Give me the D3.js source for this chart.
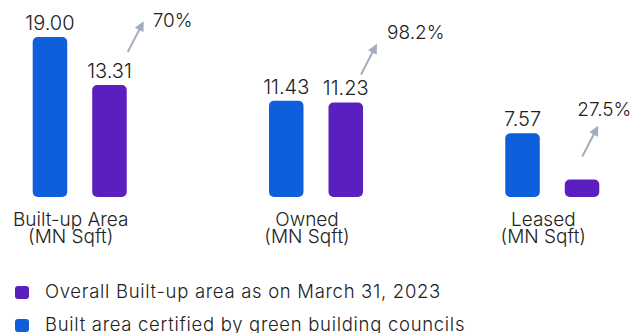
<!DOCTYPE html>
<html>
<head>
<meta charset="utf-8">
<script src="https://cdn.jsdelivr.net/npm/d3@7"></script>
<style>
  html, body { margin: 0; padding: 0; background: #ffffff; }
  svg { display: block; font-family: Inter, "Noto Sans", sans-serif; font-weight: 300; }
</style>
</head>
<body>
<svg id="chart" width="633" height="333"></svg>
<script>
// Built-up area by ownership type (MN Sqft)
const categories = ["Built-up Area", "Owned", "Leased"];
const categoryUnit = "(MN Sqft)";
const series = ["certified", "overall"];
const certifiedValues = [19.00, 11.43, 7.57];
const overallValues = [13.31, 11.23, 2.08];
const overallLabels = ["13.31", "11.23", null];
const certifiedLabels = ["19.00", "11.43", "7.57"];
const shareLabels = ["70%", "98.2%", "27.5%"];
const legendLabels = [
  "Overall Built-up area as on March 31, 2023",
  "Built area certified by green building councils"
];

const colors = { certified: "#0f5fdc", overall: "#5b1fbf" };
const textColor = "#222222";
const arrowColor = "#a4adbb";

// Arrow placement relative to the top-right corner of the overall bar,
// and share-label placement relative to the arrow tip.
const arrowShift = [[1, -33], [-2, -28], [-17, -23]];
const shareShift = [[10, 4], [11, -6], [-20, -11]];

const svg = d3.select("#chart");

const x0 = d3.scaleBand().domain(categories).range([32.7, 599.3]).paddingInner(0.602).paddingOuter(0);
const x1 = d3.scaleBand().domain(series).range([0, x0.bandwidth()]).paddingInner(0.42).paddingOuter(0);
const y = d3.scaleLinear().domain([0, 19]).range([197, 37]);

const rows = categories.map((c, i) => ({
  category: c,
  i,
  bars: [
    { key: "certified", value: certifiedValues[i], label: certifiedLabels[i] },
    { key: "overall", value: overallValues[i], label: overallLabels[i] }
  ]
}));

const groups = svg.selectAll("g.group")
  .data(rows)
  .join("g")
  .attr("class", "group")
  .attr("transform", d => `translate(${x0(d.category)},0)`);

groups.selectAll("rect")
  .data(d => d.bars)
  .join("rect")
  .attr("x", b => x1(b.key))
  .attr("y", b => y(b.value))
  .attr("width", x1.bandwidth())
  .attr("height", b => y(0) - y(b.value))
  .attr("rx", 5)
  .attr("fill", b => colors[b.key]);

groups.selectAll("text.value")
  .data(d => d.bars.filter(b => b.label))
  .join("text")
  .attr("class", "value")
  .attr("x", b => x1(b.key) + x1.bandwidth() / 2)
  .attr("y", b => y(b.value) - 7)
  .attr("text-anchor", "middle")
  .attr("font-size", 20)
  .attr("fill", textColor)
  .text(b => b.label);

// Category labels under each pair
const catText = groups.append("text")
  .attr("text-anchor", "middle")
  .attr("font-size", 19)
  .attr("fill", textColor);
catText.append("tspan")
  .attr("x", x0.bandwidth() / 2 - 9)
  .attr("y", 226)
  .text(d => d.category);
catText.append("tspan")
  .attr("x", x0.bandwidth() / 2 - 9)
  .attr("y", 243)
  .text(categoryUnit);

// Arrowhead marker
svg.append("defs").append("marker")
  .attr("id", "arrowhead")
  .attr("viewBox", "0 0 10 10")
  .attr("refX", 8)
  .attr("refY", 5)
  .attr("markerWidth", 5)
  .attr("markerHeight", 5)
  .attr("orient", "auto")
  .attr("markerUnits", "strokeWidth")
  .append("path")
  .attr("d", "M0,0 L10,5 L0,10 Z")
  .attr("fill", arrowColor);

const arrowVec = [15, -29];
rows.forEach(d => {
  const bx = x0(d.category) + x1("overall") + x1.bandwidth();
  const by = y(overallValues[d.i]);
  const sx = bx + arrowShift[d.i][0];
  const sy = by + arrowShift[d.i][1];
  const ex = sx + arrowVec[0];
  const ey = sy + arrowVec[1];
  svg.append("line")
    .attr("x1", sx).attr("y1", sy)
    .attr("x2", ex).attr("y2", ey)
    .attr("stroke", arrowColor)
    .attr("stroke-width", 2)
    .attr("marker-end", "url(#arrowhead)");
  svg.append("text")
    .attr("x", ex + shareShift[d.i][0])
    .attr("y", ey + shareShift[d.i][1])
    .attr("font-size", 19)
    .attr("fill", textColor)
    .text(shareLabels[d.i]);
});

// Legend
const legendKeys = ["overall", "certified"];
const legend = svg.selectAll("g.legend")
  .data(legendKeys)
  .join("g")
  .attr("class", "legend")
  .attr("transform", (k, i) => `translate(15,${286 + i * 33})`);
legend.append("rect")
  .attr("width", 14)
  .attr("height", 13)
  .attr("rx", 3)
  .attr("fill", k => colors[k]);
legend.append("text")
  .attr("x", 30)
  .attr("y", 12)
  .attr("font-size", 18.5)
  .attr("letter-spacing", 0.7)
  .attr("fill", textColor)
  .text((k, i) => legendLabels[i]);
</script>
</body>
</html>
